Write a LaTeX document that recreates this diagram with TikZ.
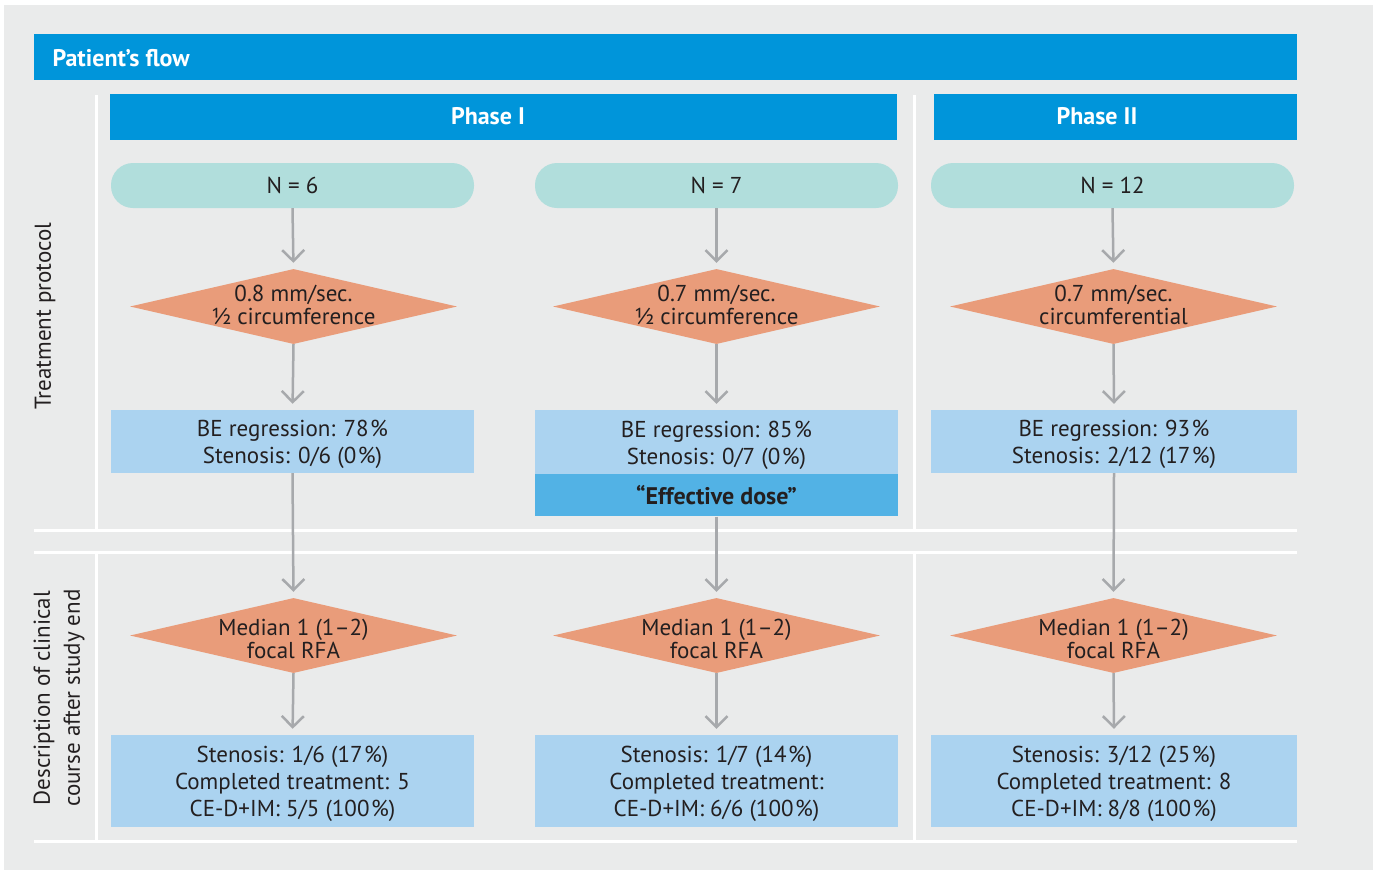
\documentclass[tikz,border=0pt]{standalone}
\usepackage{fontspec}
\setmainfont{PT Sans}
\usetikzlibrary{shapes.geometric,arrows.meta}
\definecolor{bgc}{HTML}{EAEBEB}
\definecolor{hblue}{HTML}{0095DA}
\definecolor{pillc}{HTML}{B1DEDC}
\definecolor{diac}{HTML}{E99C7A}
\definecolor{boxc}{HTML}{ABD3F0}
\definecolor{effc}{HTML}{52B2E5}
\definecolor{arrc}{HTML}{A7A9AC}
\definecolor{txtc}{HTML}{231F20}
\newcommand{\pct}{\kern1.5pt\%}
\begin{document}
\begin{tikzpicture}[x=1pt,y=-1pt,
  every node/.style={text=txtc, font=\fontsize{23}{27}\selectfont, align=center},
  wline/.style={white, line width=3pt},
  hbar/.style={fill=hblue, inner sep=0pt},
  htxt/.style={text=white, font=\fontsize{24}{28}\selectfont\bfseries},
  pill/.style={fill=pillc, rounded corners=22pt, minimum width=363pt, minimum height=45pt, inner sep=0pt},
  dia/.style={diamond, fill=diac, minimum width=327pt, minimum height=75pt, inner sep=0pt},
  diatxt/.style={font=\fontsize{23}{23.5}\selectfont},
  box/.style={fill=boxc, minimum width=363pt, inner sep=0pt},
  effbox/.style={fill=effc, minimum width=363pt, minimum height=42pt, inner sep=0pt, font=\fontsize{24}{28}\selectfont\bfseries},
  arr/.style={draw=arrc, line width=2.5pt, -{Straight Barb[length=11pt,width=22pt]}},
  sideLbl/.style={rotate=90, font=\fontsize{23}{30}\selectfont}
]
\useasboundingbox (0,0) rectangle (1378,871);
\fill[white] (0,0) rectangle (1378,871);
\fill[bgc] (4,5) rectangle (1373,870);
% white separator lines
\draw[wline] (96,95) -- (96,530);
\draw[wline] (96,552) -- (96,840);
\draw[wline] (914,95) -- (914,530);
\draw[wline] (914,552) -- (914,840);
\draw[wline] (34,530) -- (1297,530);
\draw[wline] (34,552) -- (1297,552);
\draw[wline] (34,841) -- (1297,841);
% header bars
\node[hbar, anchor=north west, minimum width=1263pt, minimum height=46pt] (hdr) at (34,34) {};
\node[htxt, anchor=west] (hdrt) at (49,58) {Patient’s flow};
\node[hbar, anchor=north west, minimum width=787pt, minimum height=46pt] (ph1) at (110,94) {};
\node[htxt] (ph1t) at (488,116) {Phase I};
\node[hbar, anchor=north west, minimum width=363pt, minimum height=46pt] (ph2) at (934,94) {};
\node[htxt] (ph2t) at (1097,116) {Phase II};
% side labels
\node[sideLbl] (sl1) at (45,316) {Treatment protocol};
\node[sideLbl] (sl2) at (59,698) {Description of clinical\\course after study end};
% column 1
\node[pill] (n1) at (292.5,185.5) {N = 6};
\node[dia] (d1) at (293.5,306.5) {};
\node[diatxt] (d1t) at (293.5,305) {0.8 mm/sec.\\½ circumference};
\node[box, minimum height=63pt, label={[yshift=-3pt]center:BE regression: 78\pct\\Stenosis: 0/6 (0\pct)}] (b1) at (292.5,441.5) {};
\node[dia] (m1) at (293.5,635.5) {};
\node[diatxt] (m1t) at (293.5,639) {Median 1 (1–2)\\focal RFA};
\node[box, minimum height=92pt, label={[yshift=-3pt]center:Stenosis: 1/6 (17\pct)\\Completed treatment: 5\\CE-D+IM: 5/5 (100\pct)}] (c1) at (292.5,781) {};
% column 2
\node[pill] (n2) at (716.5,185.5) {N = 7};
\node[dia] (d2) at (716.5,306.5) {};
\node[diatxt] (d2t) at (716.5,305) {0.7 mm/sec.\\½ circumference};
\node[box, minimum height=64pt, label={[yshift=-3pt]center:BE regression: 85\pct\\Stenosis: 0/7 (0\pct)}] (b2) at (716.5,442) {};
\node[effbox, anchor=north] (e2) at (b2.south) {“Effective dose”};
\node[dia] (m2) at (716.5,635.5) {};
\node[diatxt] (m2t) at (716.5,639) {Median 1 (1–2)\\focal RFA};
\node[box, minimum height=92pt, label={[yshift=-3pt]center:Stenosis: 1/7 (14\pct)\\Completed treatment:\\CE-D+IM: 6/6 (100\pct)}] (c2) at (716.5,781) {};
% column 3
\node[pill] (n3) at (1112.5,185.5) {N = 12};
\node[dia] (d3) at (1113.5,306.5) {};
\node[diatxt] (d3t) at (1113.5,305) {0.7 mm/sec.\\circumferential};
\node[box, minimum height=63pt, minimum width=366pt, label={[yshift=-3pt]center:BE regression: 93\pct\\Stenosis: 2/12 (17\pct)}] (b3) at (1114,441.5) {};
\node[dia] (m3) at (1113.5,635.5) {};
\node[diatxt] (m3t) at (1113.5,639) {Median 1 (1–2)\\focal RFA};
\node[box, minimum height=92pt, minimum width=366pt, label={[yshift=-3pt]center:Stenosis: 3/12 (25\pct)\\Completed treatment: 8\\CE-D+IM: 8/8 (100\pct)}] (c3) at (1114,781) {};
% arrows
\foreach \a/\b in {n1/d1,n2/d2,n3/d3,d1/b1,d2/b2,d3/b3,b1/m1,e2/m2,b3/m3,m1/c1,m2/c2,m3/c3}{
  \draw[arr, shorten >=6pt] (\a.south) -- (\b.north);
}
\end{tikzpicture}
\end{document}
